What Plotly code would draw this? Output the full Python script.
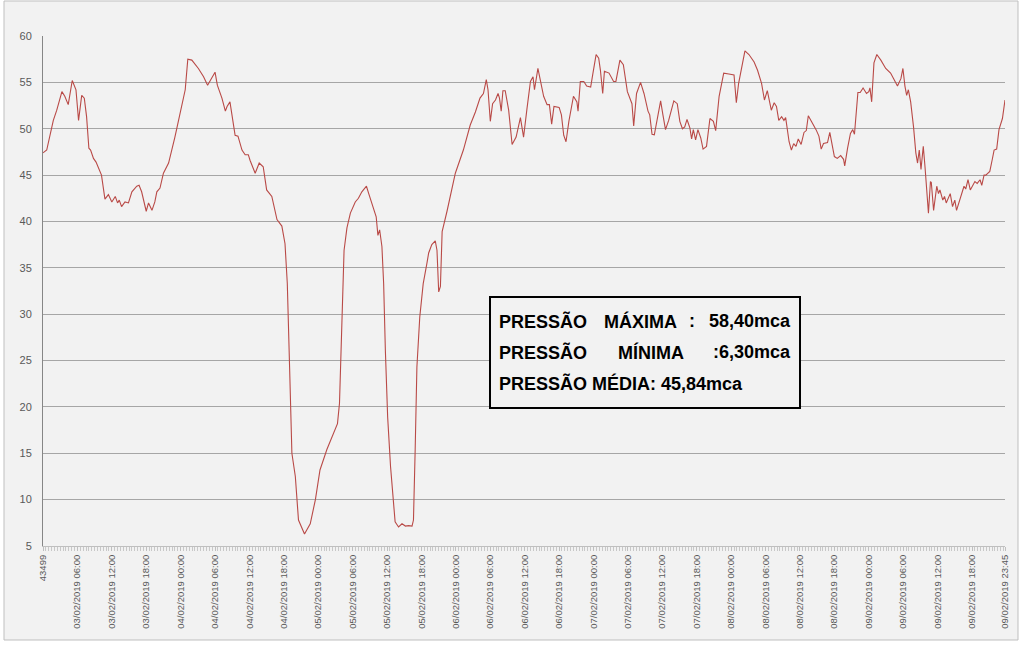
import plotly.graph_objects as go

# ---- data (hours since 03/02/2019 00:00, pressure in mca) ----
hours = [0, 0.65, 1.8, 2.4, 3.3, 3.8, 4.4, 5.1, 5.75, 6.2, 6.75, 7.2, 7.6, 8.0, 8.3, 8.8, 9.25, 9.95,
         10.2, 10.5, 10.8, 11.4, 12.0, 12.6, 13.0, 13.3, 13.7, 14.3, 14.9, 15.5, 16.35, 16.75, 17.2,
         18.0, 18.4, 19.0, 19.5, 19.85, 20.4, 21.0, 21.9, 23.0, 23.9, 24.8, 25.25, 25.95, 27.1, 28.0,
         28.7, 29.3, 30.0, 30.4, 31.2, 31.8, 32.1, 32.6, 33.5, 34.0, 34.7, 35.25, 35.8, 36.1, 37.0,
         37.7, 38.4, 39.0, 39.9, 40.8, 41.65, 42.2, 42.6, 43.0, 43.4, 44.0, 44.55, 45.6, 46.6, 47.5,
         48.3, 49.5, 50.4, 51.35, 51.7, 52.1, 52.5, 53.0, 53.6, 54.45, 55.0, 55.6, 56.4, 56.8, 57.4,
         58.1, 58.4, 58.7, 59.1, 59.4, 59.7, 60.1, 60.6, 61.1, 61.4, 62.0, 62.6, 63.2, 63.75, 64.35,
         64.6, 64.9, 65.2, 65.7, 66.3, 66.95, 67.25, 67.8, 68.4, 68.7, 69.0, 69.3, 69.6, 70.45, 71.6,
         71.9, 73.3, 74.5, 75.4, 76.2, 76.8, 77.3, 77.6, 78.0, 78.4, 78.9, 79.35, 79.6, 79.9, 80.2,
         80.6, 81.2, 81.8, 82.5, 83.25, 83.8, 84.4, 85.0, 85.45, 85.7, 86.3, 86.7, 87.3, 87.9, 88.3,
         88.7, 89.1, 90.0, 90.4, 90.8, 91.2, 91.7, 92.5, 93.1, 93.3, 93.7, 94.3, 94.8, 95.5, 95.9,
         96.45, 96.9, 97.2, 97.6, 97.9, 98.7, 99.5, 99.9, 100.6, 101.2, 101.9, 102.7, 103.0, 103.5,
         104.2, 104.8, 105.5, 105.8, 106.2, 106.6, 107.0, 107.7, 108.1, 108.55, 109.1, 110.0, 110.6,
         111.05, 111.5, 111.9, 112.3, 112.8, 113.1, 113.4, 113.8, 114.2, 114.7, 115.1, 115.7, 116.3,
         116.9, 117.3, 117.9, 118.7, 119.6, 120.5, 120.9, 121.3, 122.4, 123.1, 124.0, 124.6, 125.3,
         125.8, 126.3, 127.0, 127.5, 127.9, 128.3, 128.8, 129.2, 129.5, 130.1, 130.5, 130.9, 131.3,
         131.7, 132.2, 132.7, 133.1, 133.45, 134.0, 134.4, 134.8, 135.3, 135.7, 136.1, 136.8, 137.2,
         137.6, 138.0, 138.5, 139.1, 139.6, 139.8, 140.3, 140.8, 141.2, 141.5, 142.1, 142.5, 143.0,
         143.6, 144.0, 144.2, 144.5, 144.9, 145.4, 146.1, 146.95, 147.8, 148.4, 149.0, 149.6, 149.95,
         150.3, 150.6, 150.9, 151.3, 151.8, 152.2, 152.5, 152.8, 153.1, 153.5, 153.8, 154.1, 154.4,
         154.75, 154.9, 155.3, 155.6, 155.85, 156.15, 156.4, 156.9, 157.2, 157.5, 157.9, 158.2,
         158.6, 159.0, 159.3, 159.7, 160.3, 160.6, 160.9, 161.3, 161.7, 162.1, 162.5, 162.9, 163.4,
         163.7, 164.1, 164.4, 164.7, 165.1, 165.5, 165.85, 166.3, 166.7, 167.3, 167.75]

pressure = [47.4, 47.7, 50.9, 52.0, 54.0, 53.5, 52.6, 55.2, 54.2, 50.9, 53.6, 53.3, 51.3, 47.9, 47.7, 46.8, 46.4, 45.2,
            45.0, 43.7, 42.4, 42.9, 42.1, 42.7, 42.0, 42.3, 41.6, 42.1, 42.0, 43.2, 43.8, 43.9, 43.2,
            41.1, 42.0, 41.2, 42.1, 43.2, 43.6, 45.2, 46.3, 49.1, 51.7, 54.2, 57.5, 57.4, 56.5, 55.6,
            54.7, 55.4, 56.1, 54.7, 53.3, 51.9, 52.4, 52.9, 49.3, 49.2, 47.7, 47.2, 47.2, 46.6, 45.2,
            46.3, 45.9, 43.4, 42.7, 40.2, 39.5, 37.6, 33.3, 24.3, 15.0, 12.5, 7.8, 6.3, 7.4, 10.0,
            13.2, 15.4, 16.8, 18.2, 20.4, 29.7, 36.9, 39.3, 40.9, 42.1, 42.5, 43.2, 43.8, 43.0, 41.8,
            40.5, 38.5, 39.1, 37.3, 33.3, 26.1, 18.9, 13.6, 9.6, 7.6, 7.05, 7.4, 7.15, 7.2, 7.15,
            7.8, 15.4, 24.3, 29.7, 33.3, 35.5, 36.6, 37.5, 37.9, 36.9, 32.4, 33.0, 38.9, 41.1, 44.1,
            45.2, 47.7, 50.4, 51.8, 53.3, 53.8, 55.3, 54.2, 50.8, 52.7, 53.1, 53.8, 53.3, 51.9, 54.1,
            54.1, 52.0, 48.3, 49.1, 51.2, 49.1, 52.2, 55.1, 55.6, 54.2, 56.5, 55.4, 53.5, 52.6, 52.6,
            50.5, 52.4, 52.3, 51.5, 49.3, 48.6, 50.8, 53.5, 52.9, 51.9, 55.1, 55.1, 54.6, 54.5, 56.0,
            58.0, 57.6, 56.3, 53.8, 56.2, 56.0, 55.1, 55.1, 57.4, 56.9, 54.0, 52.7, 50.3, 53.8,
            55.0, 53.8, 51.9, 51.5, 49.4, 49.35, 50.8, 53.0, 51.5, 49.9, 50.9, 53.0, 52.7,
            50.8, 50.0, 50.2, 51.0, 50.1, 48.9, 49.9, 48.8, 49.9, 49.0, 47.8, 48.1, 51.1,
            50.8, 49.8, 53.5, 56.0, 55.9, 55.8, 52.8, 54.9, 58.4, 58.0, 57.2, 56.3, 54.9,
            53.1, 54.1, 52.0, 52.8, 52.4, 50.9, 51.3, 50.9, 51.2, 48.6, 47.7, 48.4, 48.1,
            48.9, 48.3, 49.6, 49.8, 51.4, 50.8, 50.2, 49.9, 49.2, 47.8, 48.4, 48.5, 49.6,
            48.1, 47.0, 46.8, 47.1, 46.7, 46.0, 47.9, 49.5, 49.9, 49.4, 53.9, 53.9, 54.4,
            53.8, 54.0, 54.4, 52.9, 57.1, 58.0, 57.4, 56.5, 56.0, 55.3, 54.6, 55.4, 56.5,
            54.6, 53.6, 54.2, 52.9, 50.2, 47.4, 46.3, 47.7, 45.6, 48.1, 45.9, 43.4, 40.9,
            44.3, 44.2, 41.2, 43.0, 43.8, 43.0, 43.4, 42.3, 42.7, 42.0, 42.7, 43.0,
            41.6, 42.3, 41.2, 42.0, 43.0, 43.8, 43.5, 44.5, 43.4, 43.9, 44.3, 44.1, 44.5,
            43.9, 45.0, 45.0, 45.2, 45.4, 46.6, 47.7, 47.8, 49.9, 51.1, 53.1]

tick_labels = ["43499",
               "03/02/2019 06:00", "03/02/2019 12:00", "03/02/2019 18:00",
               "04/02/2019 00:00", "04/02/2019 06:00", "04/02/2019 12:00", "04/02/2019 18:00",
               "05/02/2019 00:00", "05/02/2019 06:00", "05/02/2019 12:00", "05/02/2019 18:00",
               "06/02/2019 00:00", "06/02/2019 06:00", "06/02/2019 12:00", "06/02/2019 18:00",
               "07/02/2019 00:00", "07/02/2019 06:00", "07/02/2019 12:00", "07/02/2019 18:00",
               "08/02/2019 00:00", "08/02/2019 06:00", "08/02/2019 12:00", "08/02/2019 18:00",
               "09/02/2019 00:00", "09/02/2019 06:00", "09/02/2019 12:00", "09/02/2019 18:00",
               "09/02/2019 23:45"]
tick_hours = [6 * i for i in range(28)] + [167.75]

box_lines = [["PRESSÃO", "MÁXIMA", ":", "58,40mca"],
             ["PRESSÃO", "MÍNIMA", ":6,30mca"],
             ["PRESSÃO MÉDIA: 45,84mca"]]

# ---- layout geometry (pixels) ----
W, H = 1023, 650
L, R, T, B = 43, 1005, 36, 546


def px(x):
    return (x - L) / (R - L)


def py(y):
    return (B - y) / (B - T)


fig = go.Figure()
fig.add_trace(go.Scatter(x=hours, y=pressure, mode="lines",
                         line=dict(color="#B94A47", width=1.1), hoverinfo="skip",
                         showlegend=False))

BG = "#F2F2F2"
fig.update_layout(
    width=W, height=H,
    margin=dict(l=L, r=W - R, t=T, b=H - B, pad=0),
    paper_bgcolor="white", plot_bgcolor=BG,
    font=dict(family="Liberation Sans, Arial, sans-serif", color="#595959"),
    showlegend=False,
)
fig.update_xaxes(range=[0, 167.75], tickmode="array", tickvals=tick_hours, ticktext=tick_labels,
                 tickangle=-90, tickfont=dict(size=9.5, color="#595959"),
                 showgrid=False, zeroline=False, showline=True, linecolor="#BFBFBF", linewidth=1,
                 ticks="outside", ticklen=4, tickcolor="#BFBFBF",
                 minor=dict(ticks="outside", tick0=0, dtick=0.5, ticklen=4, tickcolor="#C8C8C8"))
fig.update_yaxes(range=[5, 60], dtick=5, tick0=5, tickfont=dict(size=11, color="#595959"),
                 showgrid=True, gridcolor="#A6A6A6", gridwidth=1, zeroline=False,
                 showline=True, linecolor="#868686", linewidth=1, ticks="", ticklabelstandoff=8)

# chart-area background and border
fig.add_shape(type="rect", xref="paper", yref="paper",
              x0=px(4), x1=px(1018), y0=py(640), y1=py(1),
              fillcolor=BG, line=dict(color="#BFBFBF", width=1), layer="below")

# statistics box
fig.add_shape(type="rect", xref="paper", yref="paper",
              x0=px(490), x1=px(800), y0=py(408), y1=py(297),
              fillcolor=BG, line=dict(color="black", width=2), layer="above")

fnt = dict(family="Liberation Sans, Arial, sans-serif", size=18, color="black")


def word(text, x, y, anchor):
    fig.add_annotation(xref="paper", yref="paper", x=px(x), y=py(y), text="<b>%s</b>" % text,
                       showarrow=False, xanchor=anchor, yanchor="middle", font=fnt)


word(box_lines[0][0], 497, 321, "left")
word(box_lines[0][1], 602, 321, "left")
word(box_lines[0][2], 692, 321, "center")
word(box_lines[0][3], 793, 321, "right")
word(box_lines[1][0], 497, 352, "left")
word(box_lines[1][1], 616, 352, "left")
word(box_lines[1][2], 793, 352, "right")
word(box_lines[2][0], 497, 383, "left")

fig.write_html("out.html")
